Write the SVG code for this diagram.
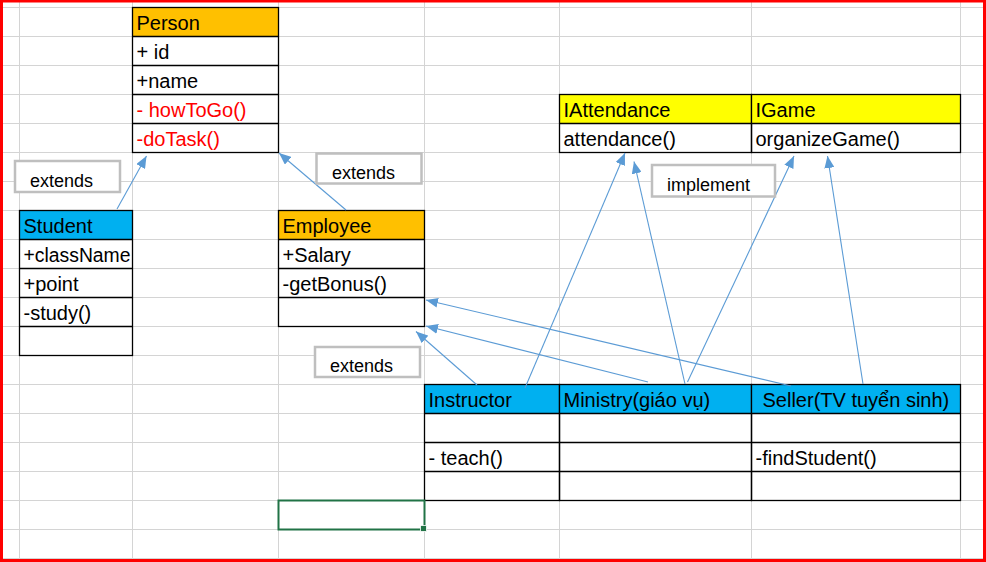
<svg xmlns="http://www.w3.org/2000/svg" width="986" height="562" viewBox="0 0 986 562">
<defs>
<style>
.grid line{stroke:#d4d4d4;stroke-width:1}
.cell{fill:none;stroke:#000;stroke-width:1.3}
.t{font-family:"Liberation Sans",Arial,sans-serif;font-size:20px;fill:#000}
.red{fill:#ff0000}
.box rect{fill:#fff;stroke:#bfbfbf;stroke-width:2.5}
.lbl{font-family:"Liberation Sans",Arial,sans-serif;font-size:18px;fill:#000}
.conn line{stroke:#5b9bd5;stroke-width:1.1;marker-end:url(#ah)}
</style>
<marker id="ah" markerWidth="12" markerHeight="10" refX="12" refY="5" orient="auto" markerUnits="userSpaceOnUse">
<path d="M0,0 L12,5 L0,10 z" fill="#5b9bd5"/>
</marker>
</defs>
<rect width="986" height="562" fill="#fff"/>
<g class="grid">
<line x1="0" y1="7.5" x2="986" y2="7.5"/><line x1="0" y1="36.5" x2="986" y2="36.5"/><line x1="0" y1="65.5" x2="986" y2="65.5"/><line x1="0" y1="94.5" x2="986" y2="94.5"/><line x1="0" y1="123.5" x2="986" y2="123.5"/><line x1="0" y1="152.5" x2="986" y2="152.5"/><line x1="0" y1="181.5" x2="986" y2="181.5"/><line x1="0" y1="210.5" x2="986" y2="210.5"/><line x1="0" y1="239.5" x2="986" y2="239.5"/><line x1="0" y1="268.5" x2="986" y2="268.5"/><line x1="0" y1="297.5" x2="986" y2="297.5"/><line x1="0" y1="326.5" x2="986" y2="326.5"/><line x1="0" y1="355.5" x2="986" y2="355.5"/><line x1="0" y1="384.5" x2="986" y2="384.5"/><line x1="0" y1="413.5" x2="986" y2="413.5"/><line x1="0" y1="442.5" x2="986" y2="442.5"/><line x1="0" y1="471.5" x2="986" y2="471.5"/><line x1="0" y1="500.5" x2="986" y2="500.5"/><line x1="0" y1="529.5" x2="986" y2="529.5"/><line x1="0" y1="558.5" x2="986" y2="558.5"/>
<line x1="19.5" y1="0" x2="19.5" y2="562"/><line x1="132.5" y1="0" x2="132.5" y2="562"/><line x1="278.5" y1="0" x2="278.5" y2="562"/><line x1="424.5" y1="0" x2="424.5" y2="562"/><line x1="559.5" y1="0" x2="559.5" y2="562"/><line x1="751.5" y1="0" x2="751.5" y2="562"/><line x1="960.5" y1="0" x2="960.5" y2="562"/>
</g>

<g id="person">
<rect x="132.5" y="7.5" width="146" height="29" fill="#ffc000"/>
<rect class="cell" x="132.5" y="7.5" width="146" height="145"/>
<line class="cell" x1="132.5" y1="36.5" x2="278.5" y2="36.5"/><line class="cell" x1="132.5" y1="65.5" x2="278.5" y2="65.5"/><line class="cell" x1="132.5" y1="94.5" x2="278.5" y2="94.5"/><line class="cell" x1="132.5" y1="123.5" x2="278.5" y2="123.5"/>
<text class="t" x="136.5" y="29.5">Person</text>
<text class="t" x="136.5" y="58.5">+ id</text>
<text class="t" x="136.5" y="87.5">+name</text>
<text class="t red" x="136.5" y="116.5">- howToGo()</text>
<text class="t red" x="136.5" y="145.5">-doTask()</text>
</g>

<g id="student">
<rect x="19.5" y="210.5" width="113" height="29" fill="#00b0f0"/>
<rect class="cell" x="19.5" y="210.5" width="113" height="145"/>
<line class="cell" x1="19.5" y1="239.5" x2="132.5" y2="239.5"/><line class="cell" x1="19.5" y1="268.5" x2="132.5" y2="268.5"/><line class="cell" x1="19.5" y1="297.5" x2="132.5" y2="297.5"/><line class="cell" x1="19.5" y1="326.5" x2="132.5" y2="326.5"/>
<text class="t" x="23.5" y="232.5">Student</text>
<text class="t" x="23.5" y="261.5" textLength="107" lengthAdjust="spacingAndGlyphs">+className</text>
<text class="t" x="23.5" y="290.5">+point</text>
<text class="t" x="23.5" y="319.5">-study()</text>
</g>

<g id="employee">
<rect x="278.5" y="210.5" width="146" height="29" fill="#ffc000"/>
<rect class="cell" x="278.5" y="210.5" width="146" height="116"/>
<line class="cell" x1="278.5" y1="239.5" x2="424.5" y2="239.5"/><line class="cell" x1="278.5" y1="268.5" x2="424.5" y2="268.5"/><line class="cell" x1="278.5" y1="297.5" x2="424.5" y2="297.5"/>
<text class="t" x="282.5" y="232.5">Employee</text>
<text class="t" x="282.5" y="261.5">+Salary</text>
<text class="t" x="282.5" y="290.5">-getBonus()</text>
</g>

<g id="iattendance">
<rect x="559.5" y="94.5" width="192" height="29" fill="#ffff00"/>
<rect class="cell" x="559.5" y="94.5" width="192" height="58"/>
<line class="cell" x1="559.5" y1="123.5" x2="751.5" y2="123.5"/>
<text class="t" x="563.5" y="116.5">IAttendance</text>
<text class="t" x="563.5" y="145.5">attendance()</text>
</g>

<g id="igame">
<rect x="751.5" y="94.5" width="209" height="29" fill="#ffff00"/>
<rect class="cell" x="751.5" y="94.5" width="209" height="58"/>
<line class="cell" x1="751.5" y1="123.5" x2="960.5" y2="123.5"/>
<text class="t" x="755.5" y="116.5">IGame</text>
<text class="t" x="755.5" y="145.5">organizeGame()</text>
</g>

<g id="instructor">
<rect x="424.5" y="384.5" width="135" height="29" fill="#00b0f0"/>
<rect class="cell" x="424.5" y="384.5" width="135" height="116"/>
<line class="cell" x1="424.5" y1="413.5" x2="559.5" y2="413.5"/><line class="cell" x1="424.5" y1="442.5" x2="559.5" y2="442.5"/><line class="cell" x1="424.5" y1="471.5" x2="559.5" y2="471.5"/>
<text class="t" x="428.5" y="406.5">Instructor</text>
<text class="t" x="428.5" y="464.5">- teach()</text>
</g>

<g id="ministry">
<rect x="559.5" y="384.5" width="192" height="29" fill="#00b0f0"/>
<rect class="cell" x="559.5" y="384.5" width="192" height="116"/>
<line class="cell" x1="559.5" y1="413.5" x2="751.5" y2="413.5"/><line class="cell" x1="559.5" y1="442.5" x2="751.5" y2="442.5"/><line class="cell" x1="559.5" y1="471.5" x2="751.5" y2="471.5"/>
<text class="t" x="563.5" y="406.5">Ministry(giáo vụ)</text>
</g>

<g id="seller">
<rect x="751.5" y="384.5" width="209" height="29" fill="#00b0f0"/>
<rect class="cell" x="751.5" y="384.5" width="209" height="116"/>
<line class="cell" x1="751.5" y1="413.5" x2="960.5" y2="413.5"/><line class="cell" x1="751.5" y1="442.5" x2="960.5" y2="442.5"/><line class="cell" x1="751.5" y1="471.5" x2="960.5" y2="471.5"/>
<text class="t" x="762.5" y="406.5">Seller(TV tuyển sinh)</text>
<text class="t" x="755.5" y="464.5">-findStudent()</text>
</g>

<g id="selection">
<rect x="278.5" y="500.5" width="146" height="29" fill="none" stroke="#217346" stroke-width="2"/>
<rect x="420.5" y="525.5" width="6" height="6" fill="#217346" stroke="#fff" stroke-width="0.8"/>
</g>

<g class="conn" id="connectors">
<line x1="117" y1="209" x2="146.5" y2="156"/>
<line x1="346" y1="210" x2="279" y2="153"/>
<line x1="477" y1="385" x2="416" y2="331.5"/>
<line x1="648" y1="382" x2="426" y2="326"/>
<line x1="791" y1="386" x2="426" y2="300"/>
<line x1="525" y1="388" x2="625" y2="153"/>
<line x1="685" y1="384" x2="634" y2="161.5"/>
<line x1="687.5" y1="382" x2="794" y2="156"/>
<line x1="863" y1="384" x2="827.5" y2="156"/>
</g>

<g class="box" id="label-extends-1">
<rect x="15" y="161" width="105" height="31"/>
<text class="lbl" x="30" y="186.5">extends</text>
</g>
<g class="box" id="label-extends-2">
<rect x="316.5" y="153.5" width="105" height="30"/>
<text class="lbl" x="332" y="178.5">extends</text>
</g>
<g class="box" id="label-extends-3">
<rect x="315" y="347" width="105" height="30"/>
<text class="lbl" x="330" y="372">extends</text>
</g>
<g class="box" id="label-implement">
<rect x="652" y="165" width="123" height="31.5"/>
<text class="lbl" x="667" y="191">implement</text>
</g>

<g id="frame" fill="none" stroke="#ff0000" stroke-width="3">
<rect x="1.5" y="1" width="983" height="559.5"/>
</g>
</svg>
